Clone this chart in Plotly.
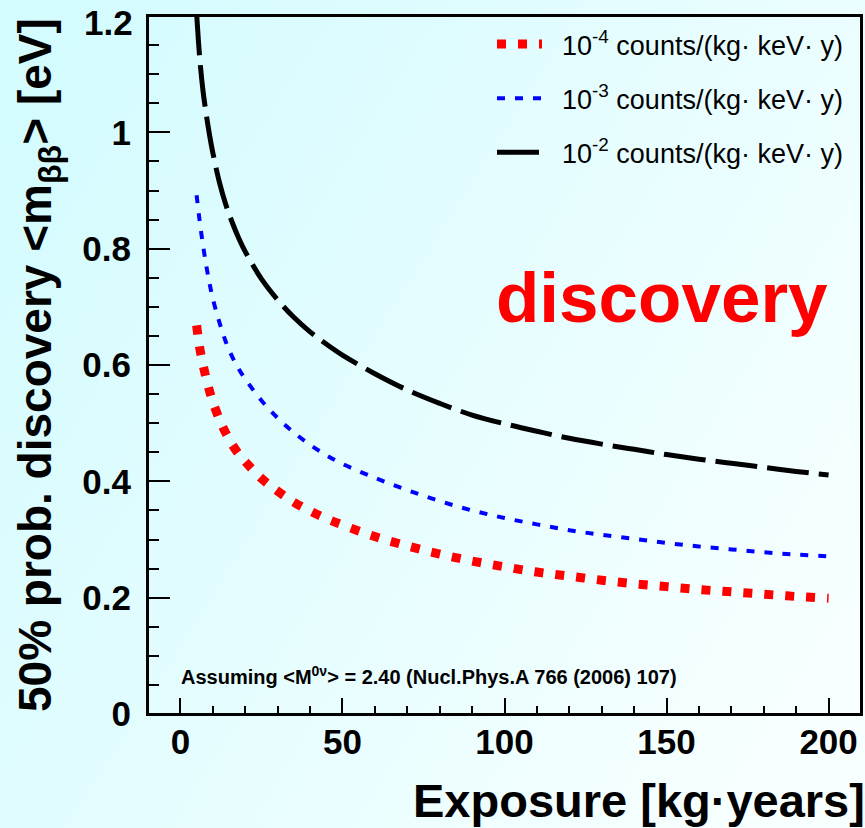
import base64
import plotly.graph_objects as go

# Exposure [kg*years]
exposure = [5, 6, 7, 8, 9, 10, 12, 14, 16, 18, 20, 25, 30, 35, 40, 45, 50, 60, 70, 80,
            90, 100, 110, 120, 130, 140, 150, 160, 170, 180, 190, 200]

# 50% prob. discovery <m_bb> [eV]
bkg_1e4 = [0.668, 0.628, 0.600, 0.576, 0.555, 0.537, 0.507, 0.483, 0.463, 0.447, 0.434,
           0.405, 0.383, 0.364, 0.349, 0.336, 0.325, 0.305, 0.289, 0.275, 0.263, 0.253,
           0.244, 0.237, 0.230, 0.224, 0.219, 0.214, 0.210, 0.206, 0.202, 0.199]
bkg_1e3 = [0.892, 0.845, 0.805, 0.770, 0.740, 0.714, 0.674, 0.640, 0.614, 0.593, 0.576,
           0.539, 0.509, 0.484, 0.463, 0.445, 0.430, 0.406, 0.385, 0.366, 0.350, 0.337,
           0.326, 0.316, 0.308, 0.301, 0.294, 0.288, 0.283, 0.278, 0.274, 0.271]
bkg_1e2 = [1.205, 1.125, 1.070, 1.030, 0.995, 0.965, 0.915, 0.876, 0.845, 0.818, 0.795,
           0.748, 0.712, 0.682, 0.657, 0.636, 0.617, 0.585, 0.557, 0.534, 0.514, 0.499,
           0.486, 0.474, 0.464, 0.455, 0.446, 0.438, 0.431, 0.424, 0.417, 0.411]

legend_names = ["10<sup>-4</sup> counts/(kg· keV· y)",
                "10<sup>-3</sup> counts/(kg· keV· y)",
                "10<sup>-2</sup> counts/(kg· keV· y)"]

x_ticks = [0, 50, 100, 150, 200]
y_ticks = [0, 0.2, 0.4, 0.6, 0.8, 1.0, 1.2]
y_ticktext = ["0", "0.2", "0.4", "0.6", "0.8", "1", "1.2"]

W, H = 865, 828
ML, MR, MT, MB = 148, 4, 16, 114
PW, PH = W - ML - MR, H - MT - MB
FONT = "Liberation Sans, Arial, Helvetica, sans-serif"

fig = go.Figure()
fig.add_trace(go.Scatter(x=exposure, y=bkg_1e4, mode="lines", name="&nbsp;&nbsp;" + legend_names[0],
                         legendgroup="a",
                         line=dict(color="#ff0000", width=9, dash="9px,12px", shape="spline")))
fig.add_trace(go.Scatter(x=exposure, y=bkg_1e3, mode="lines", name="&nbsp;&nbsp;" + legend_names[1],
                         legendgroup="b",
                         line=dict(color="#0000ff", width=4, dash="8px,10px", shape="spline")))
fig.add_trace(go.Scatter(x=exposure, y=bkg_1e2, mode="lines", name="&nbsp;&nbsp;" + legend_names[2],
                         legendgroup="c",
                         line=dict(color="#000000", width=5, dash="42px,10px", shape="spline")))

# gradient background
svg = f'''<svg xmlns="http://www.w3.org/2000/svg" width="{W}" height="{H}" preserveAspectRatio="none">
<defs><linearGradient id="g" x1="0" y1="0.2" x2="1" y2="0.8">
<stop offset="0" stop-color="rgb(212,251,254)"/>
<stop offset="1" stop-color="rgb(248,255,255)"/>
</linearGradient></defs>
<rect width="{W}" height="{H}" fill="url(#g)"/></svg>'''
src = "data:image/svg+xml;base64," + base64.b64encode(svg.encode()).decode()
fig.add_layout_image(dict(source=src, xref="paper", yref="paper",
                          x=-ML / PW, y=(PH + MT) / PH, sizex=W / PW, sizey=H / PH,
                          xanchor="left", yanchor="top", sizing="stretch", layer="below"))

# frame
fig.add_shape(type="rect", xref="paper", yref="paper", x0=0, y0=0, x1=1, y1=1,
              line=dict(color="black", width=2), fillcolor="rgba(0,0,0,0)", layer="above")

tickfont = dict(family=FONT, size=35, color="black", weight="bold")
fig.update_xaxes(range=[-10, 210], showline=True, linecolor="black", linewidth=2, mirror=True,
                 ticks="inside", ticklen=16, tickwidth=2, tickcolor="black",
                 tickmode="array", tickvals=x_ticks, tickfont=tickfont,
                 showgrid=False, zeroline=False, ticklabelstandoff=-4,
                 ticklabeloverflow="allow",
                 minor=dict(ticks="inside", tick0=0, dtick=10, ticklen=8, tickwidth=2,
                            tickcolor="black", showgrid=False))
# top label (1.2) drawn as annotation slightly lowered so it is not cut by the page edge
fig.update_yaxes(range=[0, 1.2], showline=True, linecolor="black", linewidth=2, mirror=True,
                 ticks="inside", ticklen=22, tickwidth=2, tickcolor="black",
                 tickmode="array", tickvals=y_ticks, ticktext=y_ticktext[:-1] + [""],
                 tickfont=tickfont, showgrid=False, zeroline=False, ticklabelstandoff=8,
                 ticklabeloverflow="allow",
                 minor=dict(ticks="inside", tick0=0, dtick=0.05, ticklen=11, tickwidth=2,
                            tickcolor="black", showgrid=False))
fig.add_annotation(text=y_ticktext[-1], xref="paper", yref="y", x=0, y=y_ticks[-1],
                   xanchor="right", yanchor="middle", xshift=-13, yshift=-6, showarrow=False,
                   font=tickfont)

fig.add_annotation(text="50% prob. discovery &lt;m<sub>ββ</sub>&gt; [eV]", textangle=-90,
                   xref="paper", yref="paper", x=(38 - ML) / PW, y=1.0,
                   xanchor="center", yanchor="top", showarrow=False,
                   font=dict(family=FONT, size=46, color="black", weight="bold"))
fig.add_annotation(text="Exposure [kg·years]", xref="paper", yref="paper",
                   x=(867 - ML) / PW, y=(MT + PH - 800) / PH,
                   xanchor="right", yanchor="middle", showarrow=False,
                   font=dict(family=FONT, size=47, color="black", weight="bold"))
fig.add_annotation(text="discovery", xref="paper", yref="paper",
                   x=(662 - ML) / PW, y=(MT + PH - 297) / PH,
                   xanchor="center", yanchor="middle", showarrow=False,
                   font=dict(family=FONT, size=71, color="#ff0000", weight="bold"))
fig.add_annotation(text="Assuming &lt;M<sup>0ν</sup>&gt; = 2.40 (Nucl.Phys.A 766 (2006) 107)",
                   xref="paper", yref="paper",
                   x=(179 - ML) / PW, y=(MT + PH - 675) / PH,
                   xanchor="left", yanchor="middle", showarrow=False,
                   font=dict(family=FONT, size=20, color="black", weight="bold"))

fig.update_layout(width=W, height=H, margin=dict(l=ML, r=MR, t=MT, b=MB, autoexpand=False),
                  paper_bgcolor="rgb(225,253,255)", plot_bgcolor="rgba(0,0,0,0)",
                  showlegend=True,
                  legend=dict(x=(492 - ML) / PW, y=(MT + PH - 20) / PH, xanchor="left",
                              yanchor="top", bgcolor="rgba(0,0,0,0)", borderwidth=0,
                              tracegroupgap=16, itemwidth=45,
                              font=dict(family=FONT, size=27, color="black")))

fig.write_html("out.html", config={"displayModeBar": False},
               post_script="document.body.style.margin='0';document.body.style.overflow='hidden';")
